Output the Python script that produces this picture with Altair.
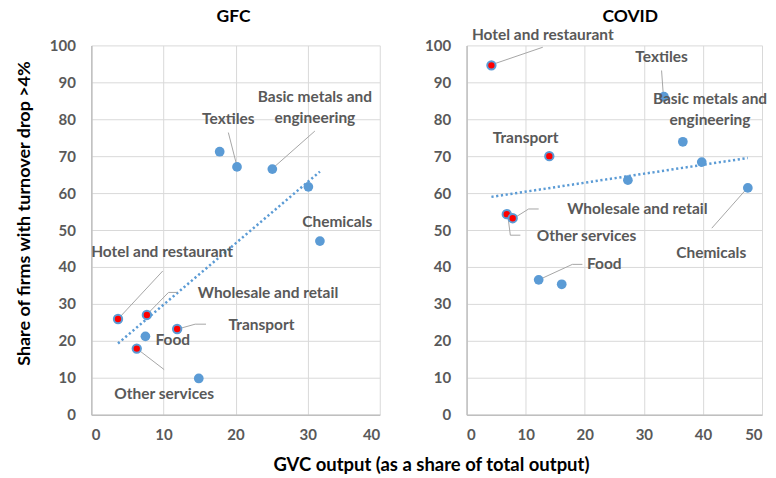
import altair as alt
import pandas as pd

BLUE = "#5B9BD5"
RED = "#FF0000"
GREY_TXT = "#595959"
FONT = "Lato"

# ---------------- data ----------------
# GFC panel
gfc_x = [17.8, 20.2, 25.1, 30.1, 31.7, 3.7, 7.7, 11.9, 7.5, 6.3, 14.9]
gfc_y = [71.2, 67.1, 66.5, 61.7, 47.0, 25.9, 27.0, 23.2, 21.2, 17.9, 9.8]
gfc_services = [False, False, False, False, False, True, True, True, False, True, False]

# COVID panel
covid_x = [4.2, 33.4, 36.6, 14.0, 39.8, 27.3, 47.6, 6.8, 7.8, 12.2, 16.1]
covid_y = [94.6, 86.1, 73.9, 70.0, 68.4, 63.5, 61.4, 54.3, 53.2, 36.5, 35.3]
covid_services = [True, False, False, True, False, False, False, True, True, False, False]

# annotation labels (text, x, y)
gfc_label_text = ["Textiles", "Basic metals and\nengineering", "Chemicals", "Hotel and restaurant",
                  "Wholesale and retail", "Transport", "Food", "Other services"]
gfc_label_x = [19.0, 31.0, 34.1, 9.8, 24.5, 23.6, 11.3, 10.1]
gfc_label_y = [80.0, 85.9, 52.2, 44.1, 32.9, 24.3, 20.3, 5.5]

covid_label_text = ["Hotel and restaurant", "Textiles", "Basic metals and\nengineering", "Transport",
                    "Wholesale and retail", "Other services", "Chemicals", "Food"]
covid_label_x = [12.9, 33.0, 41.2, 10.0, 28.9, 20.3, 41.4, 23.3]
covid_label_y = [102.7, 96.8, 85.5, 75.0, 55.7, 48.4, 43.9, 40.7]

# leader lines: list of polylines [(x, y), ...]
gfc_leaders = [
    [(19.0, 76.4), (20.1, 68.0)],
    [(31.0, 76.8), (25.2, 66.8)],
    [(9.9, 38.9), (3.9, 26.3)],
    [(11.9, 33.1), (10.7, 33.1), (7.9, 27.5)],
    [(15.9, 24.5), (14.4, 24.5), (12.0, 23.2)],
    [(10.1, 12.2), (6.5, 17.6)],
]
covid_leaders = [
    [(12.9, 99.5), (4.3, 94.8)],
    [(33.0, 93.2), (33.3, 86.5)],
    [(12.2, 55.7), (10.5, 55.7), (8.0, 53.2)],
    [(9.1, 48.6), (7.4, 48.6), (7.0, 53.6)],
    [(41.5, 50.5), (47.2, 60.8)],
    [(19.6, 40.7), (17.9, 40.7), (12.2, 36.5)],
]

y_ticks = [0, 10, 20, 30, 40, 50, 60, 70, 80, 90, 100]
Y_TITLE = "Share of firms with turnover drop >4%"
X_TITLE = "GVC output (as a share of total output)"


def panel(xs, ys, svc, ltxt, lx, ly, leaders, title, xmax, width, show_ytitle, title_dx):
    pts = pd.DataFrame({"x": xs, "y": ys, "svc": svc})
    labs = pd.DataFrame({"text": ltxt, "x": lx, "y": ly})
    rows = []
    for i, line in enumerate(leaders):
        for j, (a, b) in enumerate(line):
            rows.append({"id": i, "o": j, "x": a, "y": b})
    lead = pd.DataFrame(rows)

    xsc = alt.Scale(domain=[0, xmax], nice=False)
    ysc = alt.Scale(domain=[0, 100], nice=False)
    xax = alt.Axis(values=list(range(0, xmax + 1, 10)), title=None, labelOverlap=False)
    if show_ytitle:
        yax = alt.Axis(values=y_ticks, labelOverlap=False, title=Y_TITLE, titleY=168)
    else:
        yax = alt.Axis(values=y_ticks, labelOverlap=False, title=None)
    X = alt.X("x:Q", scale=xsc, axis=xax)
    Y = alt.Y("y:Q", scale=ysc, axis=yax)

    base = alt.Chart(pts)
    trend = base.transform_regression("x", "y").mark_line(
        color=BLUE, strokeWidth=2.5, strokeDash=[2.2, 2.6]
    ).encode(x=X, y=Y)

    leaders_l = alt.Chart(lead).mark_line(color="#A6A6A6", strokeWidth=1).encode(
        x=X, y=Y, detail="id:N", order="o:Q")

    blue = base.transform_filter("!datum.svc").mark_circle(
        color=BLUE, size=95, opacity=1).encode(x=X, y=Y)
    red = base.transform_filter("datum.svc").mark_point(
        shape="circle", filled=True, fill=RED, stroke=BLUE, strokeWidth=2, size=70, opacity=1
    ).encode(x=X, y=Y)

    text = alt.Chart(labs).mark_text(
        font=FONT, fontSize=15.5, fontWeight="bold", color=GREY_TXT, lineBreak="\n",
        lineHeight=21, align="center", baseline="middle"
    ).encode(x=X, y=Y, text="text:N")

    ttl = alt.Chart(pd.DataFrame({"t": [title]})).mark_text(
        font=FONT, fontSize=17.5, fontWeight="bold", color="black",
        align="center", baseline="middle"
    ).encode(x=alt.value(width / 2 + title_dx), y=alt.value(-28), text="t:N")

    return alt.layer(trend, leaders_l, blue, red, text, ttl).properties(width=width, height=370)


left = panel(gfc_x, gfc_y, gfc_services, gfc_label_text, gfc_label_x, gfc_label_y,
             gfc_leaders, "GFC", 40, 289, True, -2)
right = panel(covid_x, covid_y, covid_services, covid_label_text, covid_label_x, covid_label_y,
              covid_leaders, "COVID", 50, 296, False, 16)

chart = alt.hconcat(left, right, spacing=44).properties(
    title=alt.TitleParams(X_TITLE, orient="bottom",
                          anchor="middle", font=FONT, fontSize=18.5, fontWeight="bold",
                          color="black", dx=40, offset=13),
    padding={"left": 7.5, "top": 0, "right": 0, "bottom": 0},
).configure_view(stroke=None).configure_axis(
    grid=True, gridColor="#D9D9D9", gridWidth=1,
    domainColor="#BFBFBF", domainWidth=1.5, ticks=False,
    labelFont=FONT, labelFontSize=15, labelFontWeight="bold", labelColor=GREY_TXT,
    labelPadding=16,
    titleFont=FONT, titleFontSize=18, titleFontWeight="bold", titleColor="black",
    titlePadding=15.5,
).configure_axisX(labelPadding=13)

chart.save("out.html", embed_options={"renderer": "svg", "actions": False})
